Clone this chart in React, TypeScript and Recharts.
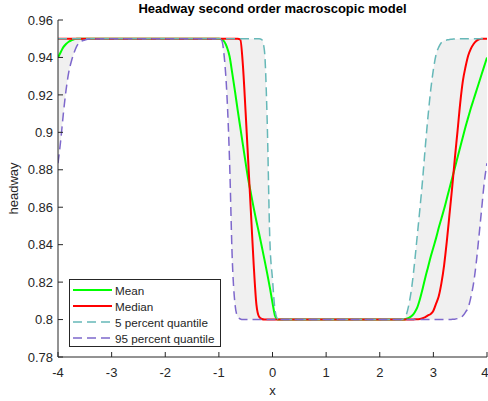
import { ComposedChart, Line, Area, XAxis, YAxis, Legend } from "recharts";

// x positions of the samples (denser where the profiles change fast)
const xs = [
  -4, -3.95, -3.9, -3.85, -3.8, -3.75, -3.7, -3.65, -3.6, -3.5,
  -3.4, -3, -2, -1, -0.95, -0.9, -0.85, -0.8, -0.75, -0.7,
  -0.65, -0.6, -0.55, -0.5, -0.45, -0.4, -0.35, -0.3, -0.25, -0.2,
  -0.15, -0.1, -0.05, 0, 0.05, 0.1, 0.15, 1, 2, 2.4,
  2.45, 2.5, 2.55, 2.6, 2.65, 2.7, 2.75, 2.8, 2.85, 2.9,
  2.95, 3, 3.05, 3.1, 3.15, 3.2, 3.25, 3.3, 3.35, 3.4,
  3.45, 3.5, 3.55, 3.6, 3.65, 3.7, 3.75, 3.8, 3.85, 3.9,
  3.95, 4,
];

const meanVals = [
  0.94, 0.9428, 0.9455, 0.9472, 0.9484, 0.9492, 0.9497, 0.95, 0.95, 0.95,
  0.95, 0.95, 0.95, 0.95, 0.9498, 0.9485, 0.9455, 0.9405, 0.9315, 0.922,
  0.912, 0.9025, 0.893, 0.8835, 0.8745, 0.867, 0.8595, 0.8525, 0.846, 0.839,
  0.832, 0.8248, 0.8172, 0.809, 0.8018, 0.8, 0.8, 0.8, 0.8, 0.8,
  0.8, 0.8004, 0.801, 0.802, 0.8038, 0.8065, 0.811, 0.8165, 0.8225, 0.828,
  0.8335, 0.8385, 0.8435, 0.849, 0.854, 0.859, 0.8645, 0.87, 0.8755, 0.881,
  0.8865, 0.892, 0.8975, 0.903, 0.908, 0.913, 0.9175, 0.922, 0.9265, 0.931,
  0.9355, 0.94,
];

const medianVals = [
  0.95, 0.95, 0.95, 0.95, 0.95, 0.95, 0.95, 0.95, 0.95, 0.95,
  0.95, 0.95, 0.95, 0.95, 0.95, 0.95, 0.95, 0.95, 0.95, 0.95,
  0.95, 0.9495, 0.935, 0.91, 0.883, 0.856, 0.829, 0.808, 0.8015, 0.8003,
  0.8, 0.8, 0.8, 0.8, 0.8, 0.8, 0.8, 0.8, 0.8, 0.8,
  0.8, 0.8, 0.8, 0.8, 0.8001, 0.8002, 0.8003, 0.8007, 0.8013, 0.8022,
  0.803, 0.8047, 0.8085, 0.8125, 0.8195, 0.829, 0.8416, 0.856, 0.8705, 0.886,
  0.9005, 0.9155, 0.9275, 0.935, 0.941, 0.9447, 0.9472, 0.9488, 0.9497, 0.95,
  0.95, 0.95,
];

const q5Vals = [
  0.95, 0.95, 0.95, 0.95, 0.95, 0.95, 0.95, 0.95, 0.95, 0.95,
  0.95, 0.95, 0.95, 0.95, 0.95, 0.95, 0.95, 0.95, 0.95, 0.95,
  0.95, 0.95, 0.95, 0.95, 0.95, 0.95, 0.95, 0.95, 0.95, 0.9495,
  0.9435, 0.907, 0.843, 0.8215, 0.8045, 0.8003, 0.8, 0.8, 0.8, 0.8,
  0.8005, 0.803, 0.809, 0.818, 0.8305, 0.845, 0.8595, 0.875, 0.8925, 0.9085,
  0.9225, 0.9335, 0.9415, 0.9455, 0.948, 0.949, 0.9493, 0.9496, 0.9497, 0.9499,
  0.9499, 0.95, 0.95, 0.95, 0.95, 0.95, 0.95, 0.95, 0.95, 0.95,
  0.95, 0.95,
];

const q95Vals = [
  0.8835, 0.8955, 0.91, 0.9225, 0.932, 0.938, 0.9425, 0.946, 0.948, 0.9493,
  0.9498, 0.95, 0.95, 0.95, 0.9493, 0.9404, 0.92, 0.884, 0.832, 0.8085,
  0.8015, 0.8003, 0.8, 0.8, 0.8, 0.8, 0.8, 0.8, 0.8, 0.8,
  0.8, 0.8, 0.8, 0.8, 0.8, 0.8, 0.8, 0.8, 0.8, 0.8,
  0.8, 0.8, 0.8, 0.8, 0.8, 0.8, 0.8, 0.8, 0.8, 0.8,
  0.8, 0.8, 0.8, 0.8, 0.8, 0.8, 0.8, 0.8, 0.8001, 0.8002,
  0.8005, 0.8009, 0.802, 0.804, 0.8065, 0.812, 0.8195, 0.8305, 0.8445, 0.859,
  0.8735, 0.8835,
];

const xTicks = [-4, -3, -2, -1, 0, 1, 2, 3, 4];
const yTicks = [0.78, 0.8, 0.82, 0.84, 0.86, 0.88, 0.9, 0.92, 0.94, 0.96];
const legendOrder = ["Mean", "Median", "5 percent quantile", "95 percent quantile"];

const data = xs.map((x, i) => ({
  x,
  mean: meanVals[i],
  median: medianVals[i],
  q5: q5Vals[i],
  q95: q95Vals[i],
  band: [q95Vals[i], q5Vals[i]],
}));

const FONT = '"Liberation Sans", Arial, Helvetica, sans-serif';
const AX = "#262626";

function LegendBox(props: any) {
  const items = (props.payload || [])
    .filter((p: any) => p.type !== "none" && legendOrder.includes(p.value))
    .sort((a: any, b: any) => legendOrder.indexOf(a.value) - legendOrder.indexOf(b.value));
  return (
    <div
      style={{
        width: 152,
        height: 68,
        boxSizing: "border-box",
        border: `1px solid ${AX}`,
        background: "#fff",
        padding: "2px 0 0 3px",
        fontFamily: FONT,
        fontSize: 11.7,
        color: AX,
      }}
    >
      {items.map((it: any) => (
        <div key={it.value} style={{ display: "flex", alignItems: "center", height: 16 }}>
          <svg width={39} height={4} style={{ display: "block" }}>
            <line
              x1={0}
              y1={2}
              x2={39}
              y2={2}
              stroke={it.color}
              strokeWidth={it.payload?.strokeWidth ?? 1.5}
              strokeDasharray={it.payload?.strokeDasharray}
            />
          </svg>
          <span style={{ marginLeft: 3, whiteSpace: "nowrap" }}>{it.value}</span>
        </div>
      ))}
    </div>
  );
}

export default function App() {
  return (
    <div style={{ position: "absolute", left: 0, top: 0, width: 488, height: 401, background: "#fff" }}>
      <div
        style={{
          position: "absolute",
          left: 58,
          top: 1,
          width: 429,
          textAlign: "center",
          fontFamily: FONT,
          fontWeight: "bold",
          fontSize: 13,
          color: "#000",
          zIndex: 2,
        }}
      >
        Headway second order macroscopic model
      </div>
      <ComposedChart
        width={488}
        height={401}
        data={data}
        margin={{ top: 20, right: 1, bottom: 0, left: 0 }}
        style={{ fontFamily: FONT }}
      >
        <XAxis
          dataKey="x"
          type="number"
          domain={[-4, 4]}
          ticks={xTicks}
          allowDataOverflow
          height={44}
          stroke={AX}
          tickSize={-5}
          tickMargin={16}
          tick={{ fill: AX, fontSize: 13 }}
          label={{ value: "x", position: "insideBottom", offset: 6, fill: AX, fontSize: 13 }}
        />
        <XAxis
          xAxisId="top"
          orientation="top"
          type="number"
          domain={[-4, 4]}
          ticks={xTicks}
          allowDataOverflow
          height={0}
          stroke={AX}
          tickSize={-5}
          tick={false}
        />
        <YAxis
          type="number"
          domain={[0.78, 0.96]}
          ticks={yTicks}
          allowDataOverflow
          width={58}
          stroke={AX}
          tickSize={-5}
          tickMargin={10}
          tick={{ fill: AX, fontSize: 13 }}
          label={{
            value: "headway",
            angle: -90,
            position: "insideLeft",
            dx: 8,
            fill: AX,
            fontSize: 13,
            style: { textAnchor: "middle" },
          }}
        />
        <YAxis
          yAxisId="right"
          orientation="right"
          type="number"
          domain={[0.78, 0.96]}
          ticks={yTicks}
          allowDataOverflow
          width={0}
          stroke={AX}
          tickSize={-5}
          tick={false}
        />
        <Area
          dataKey="band"
          type="monotone"
          fill="#f0f0f0"
          fillOpacity={1}
          stroke="none"
          legendType="none"
          isAnimationActive={false}
        />
        <Line
          dataKey="mean"
          name="Mean"
          type="monotone"
          stroke="#00ff00"
          strokeWidth={2}
          dot={false}
          isAnimationActive={false}
        />
        <Line
          dataKey="median"
          name="Median"
          type="monotone"
          stroke="#ff0000"
          strokeWidth={2}
          dot={false}
          isAnimationActive={false}
        />
        <Line
          dataKey="q5"
          name="5 percent quantile"
          type="monotone"
          stroke="#66b8b8"
          strokeWidth={1.5}
          strokeDasharray="9 5"
          dot={false}
          isAnimationActive={false}
        />
        <Line
          dataKey="q95"
          name="95 percent quantile"
          type="monotone"
          stroke="#7e68cc"
          strokeWidth={1.5}
          strokeDasharray="9 5"
          dot={false}
          isAnimationActive={false}
        />
        <Legend
          layout="horizontal"
          verticalAlign="middle"
          align="center"
          content={LegendBox}
          wrapperStyle={{ position: "absolute", left: 69, top: 279, width: 152, height: 68 }}
        />
      </ComposedChart>
    </div>
  );
}
